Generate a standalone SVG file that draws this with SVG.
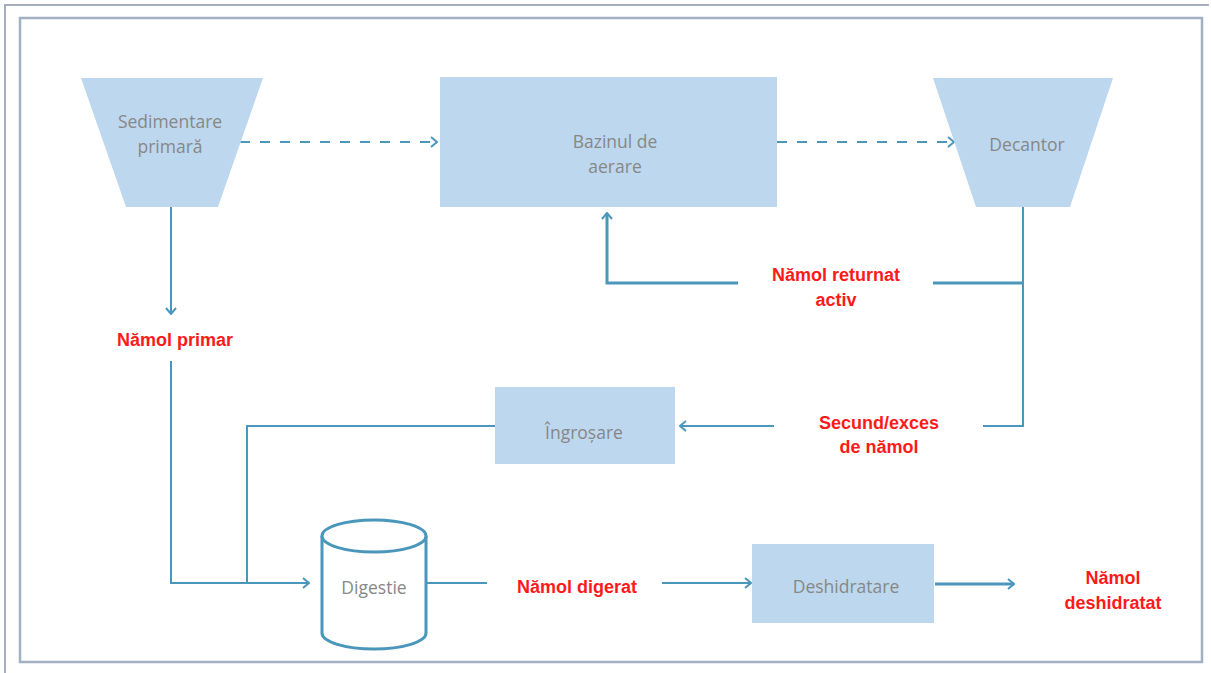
<svg xmlns="http://www.w3.org/2000/svg" width="1211" height="673" viewBox="0 0 1211 673">
<style>
.box{fill:#bdd7ee}
.lbl{font-family:"Open Sans","Liberation Sans",sans-serif;font-size:17.5px;fill:#878787;text-anchor:middle}
.red{font-family:"Liberation Sans",Arial,sans-serif;font-size:18px;font-weight:bold;fill:#ff1a1a;text-anchor:middle}
.ln{fill:none;stroke:#4a97bb;stroke-width:2}
.thick{stroke-width:3}
.dash{stroke-dasharray:10 10}
</style>
<defs>
<marker id="arr" viewBox="0 0 10 12" refX="9" refY="6" markerWidth="10" markerHeight="12" markerUnits="userSpaceOnUse" orient="auto">
<path d="M3,1 L9,6 L3,11" fill="none" stroke="#4a97bb" stroke-width="2"/>
</marker>
</defs>
<rect width="1211" height="673" fill="#ffffff"/>
<g id="frame" fill="none" stroke="#a3afc3">
<path d="M5,673 V5 H1209" stroke-width="2"/>
<rect x="20" y="18" width="1182" height="644" stroke-width="2.5"/>
</g>
<g id="connectors">
<path class="ln dash" d="M240,142 H437" marker-end="url(#arr)"/>
<path class="ln dash" d="M777,142 H954" marker-end="url(#arr)"/>
<path class="ln" d="M171,207 V314" marker-end="url(#arr)"/>
<path class="ln" d="M171,361 V583 H309" marker-end="url(#arr)"/>
<path class="ln" d="M495,426 H247 V583"/>
<path class="ln" d="M1023,207 V426 H983"/>
<path class="ln thick" d="M1023,283 H933"/>
<path class="ln thick" d="M738,283 H607 V213" marker-end="url(#arr)"/>
<path class="ln" d="M774,426 H680" marker-end="url(#arr)"/>
<path class="ln" d="M427,583 H487"/>
<path class="ln" d="M662,583 H751" marker-end="url(#arr)"/>
<path class="ln thick" d="M935,584 H1014" marker-end="url(#arr)"/>
</g>
<g id="sedimentare">
<polygon class="box" points="81,78 263,78 218,207 126,207"/>
<text class="lbl" x="170" y="128">Sedimentare</text>
<text class="lbl" x="170" y="153">primară</text>
</g>
<g id="bazinul">
<rect class="box" x="440" y="77" width="337" height="130"/>
<text class="lbl" x="615" y="148">Bazinul de</text>
<text class="lbl" x="615" y="173">aerare</text>
</g>
<g id="decantor">
<polygon class="box" points="933,78 1113,78 1070,207 976,207"/>
<text class="lbl" x="1027" y="151">Decantor</text>
</g>
<g id="ingrosare">
<rect class="box" x="495" y="387" width="180" height="77"/>
<text class="lbl" x="584" y="439">Îngroșare</text>
</g>
<g id="digestie">
<path d="M322,536 V633 A52,16 0 0 0 426,633 V536" fill="#ffffff" stroke="#4a97bb" stroke-width="3"/>
<ellipse cx="374" cy="536" rx="52" ry="16" fill="#ffffff" stroke="#4a97bb" stroke-width="3"/>
<text class="lbl" x="374" y="594">Digestie</text>
</g>
<g id="deshidratare">
<rect class="box" x="752" y="544" width="182" height="79"/>
<text class="lbl" x="846" y="593">Deshidratare</text>
</g>
<g id="labels">
<text class="red" x="175" y="346">Nămol primar</text>
<text class="red" x="836" y="281">Nămol returnat</text>
<text class="red" x="836" y="306">activ</text>
<text class="red" x="879" y="429">Secund/exces</text>
<text class="red" x="879" y="453">de nămol</text>
<text class="red" x="577" y="593">Nămol digerat</text>
<text class="red" x="1113" y="584">Nămol</text>
<text class="red" x="1113" y="609">deshidratat</text>
</g>
</svg>
